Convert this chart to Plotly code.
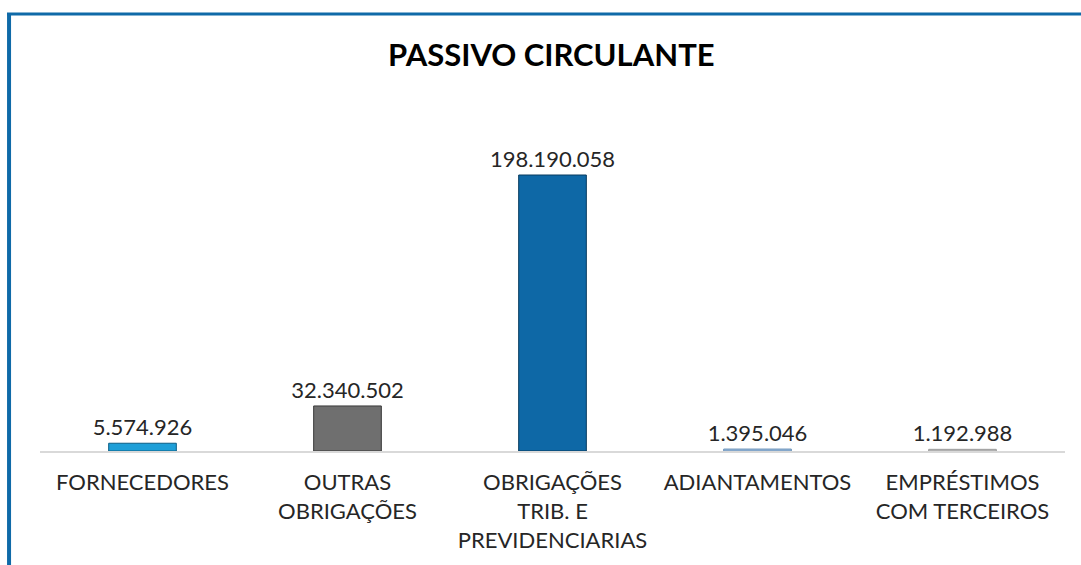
import plotly.graph_objects as go

categories = ["FORNECEDORES", "OUTRAS<br>OBRIGAÇÕES", "OBRIGAÇÕES<br>TRIB. E<br>PREVIDENCIARIAS",
              "ADIANTAMENTOS", "EMPRÉSTIMOS<br>COM TERCEIROS"]
values = [5574926, 32340502, 198190058, 1395046, 1192988]
value_labels = ["5.574.926", "32.340.502", "198.190.058", "1.395.046", "1.192.988"]
colors = ["#1E9FD8", "#6F6F6F", "#0E68A6", "#9ABCDD", "#C6C6C6"]
edge_colors = ["#0B5E86", "#3A3A3A", "#073A5E", "#6E93B8", "#9A9A9A"]

FONT = "Lato, 'Open Sans', sans-serif"

fig = go.Figure(go.Bar(
    x=categories, y=values,
    marker=dict(color=colors, line=dict(color=edge_colors, width=1)),
    width=0.33,
    text=value_labels, textposition="outside", cliponaxis=False,
    constraintext="none",
    textfont=dict(family=FONT, size=22, color="#262626"),
    hoverinfo="skip",
))

fig.update_layout(
    width=1081, height=565,
    margin=dict(l=40, r=16, t=140, b=114),
    paper_bgcolor="white", plot_bgcolor="white",
    showlegend=False,
    title=dict(text="<b>PASSIVO CIRCULANTE</b>", x=0.51, xanchor="center",
               y=0.903, yanchor="middle",
               font=dict(family=FONT, size=31, color="#000000")),
    xaxis=dict(showline=True, linecolor="#D9D9D9", linewidth=2,
               showgrid=False, ticks="", ticklabelstandoff=11,
               tickfont=dict(family=FONT, size=22, color="#262626")),
    yaxis=dict(visible=False, range=[0, 198190058 * 311 / 276]),
    shapes=[
        dict(type="line", xref="paper", yref="paper", x0=-0.0302, x1=-0.0302,
             y0=1.405, y1=-0.4, line=dict(color="#0F6AA8", width=4)),
        dict(type="line", xref="paper", yref="paper", x0=-0.0322, x1=1.02,
             y0=1.405, y1=1.405, line=dict(color="#0F6AA8", width=3)),
    ],
)

fig.write_html("out.html", config={"displayModeBar": False},
               post_script="document.body.style.margin='0';")
